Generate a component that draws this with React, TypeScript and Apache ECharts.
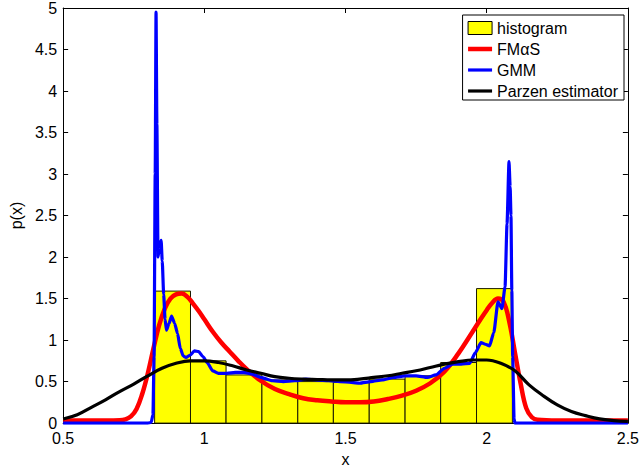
import React, { useEffect, useRef } from "react";
import * as echarts from "echarts";

// Histogram bin edges and heights
const binEdges = [0.824, 0.951, 1.077, 1.204, 1.331, 1.457, 1.584, 1.711, 1.837, 1.964, 2.091];
const binHeights = [1.59, 0.75, 0.58, 0.52, 0.5, 0.49, 0.53, 0.57, 0.73, 1.62];

// FMαS curve
const fmasPoints = [
  [0.5, 0.03], [0.6, 0.03], [0.7, 0.035], [0.72, 0.045], [0.74, 0.08], [0.76, 0.17], [0.78, 0.35],
  [0.8, 0.6], [0.82, 0.9], [0.84, 1.18], [0.86, 1.38], [0.88, 1.5], [0.9, 1.55], [0.92, 1.56],
  [0.94, 1.52], [0.96, 1.44], [0.98, 1.35], [1.0, 1.25], [1.03, 1.1], [1.06, 0.97], [1.09, 0.86],
  [1.12, 0.75], [1.15, 0.65], [1.2, 0.51], [1.25, 0.41], [1.3, 0.35], [1.35, 0.3], [1.4, 0.275],
  [1.45, 0.26], [1.5, 0.25], [1.55, 0.25], [1.6, 0.26], [1.65, 0.29], [1.7, 0.33], [1.75, 0.39],
  [1.8, 0.48], [1.85, 0.62], [1.9, 0.84], [1.95, 1.1], [1.98, 1.26], [2.0, 1.36], [2.02, 1.45],
  [2.04, 1.5], [2.06, 1.46], [2.08, 1.22], [2.1, 0.85], [2.12, 0.48], [2.14, 0.18], [2.16, 0.07],
  [2.18, 0.04], [2.25, 0.03], [2.5, 0.03],
];

// GMM curve
const gmmPoints = [
  [0.5, 0], [0.8, 0], [0.812, 0.01], [0.818, 0.1], [0.822, 0.8], [0.826, 3.0], [0.829, 4.95],
  [0.832, 3.6], [0.836, 2.0], [0.841, 2.12], [0.847, 2.2], [0.851, 1.95], [0.856, 1.55],
  [0.861, 1.25], [0.866, 1.12], [0.875, 1.2], [0.884, 1.29], [0.895, 1.2], [0.905, 1.08],
  [0.915, 0.9], [0.925, 0.81], [0.935, 0.79], [0.95, 0.82], [0.965, 0.87], [0.98, 0.86],
  [0.995, 0.8], [1.01, 0.73], [1.03, 0.63], [1.05, 0.6], [1.08, 0.6], [1.11, 0.61], [1.14, 0.61],
  [1.17, 0.59], [1.2, 0.55], [1.24, 0.51], [1.28, 0.5], [1.32, 0.51], [1.36, 0.53], [1.4, 0.52],
  [1.44, 0.51], [1.48, 0.5], [1.52, 0.49], [1.55, 0.48], [1.59, 0.5], [1.63, 0.52], [1.67, 0.55],
  [1.71, 0.57], [1.75, 0.57], [1.79, 0.55], [1.82, 0.58], [1.85, 0.66], [1.88, 0.71], [1.91, 0.71],
  [1.94, 0.72], [1.96, 0.85], [1.98, 0.97], [1.995, 0.95], [2.01, 0.93], [2.025, 1.09], [2.04, 1.46],
  [2.054, 1.38], [2.065, 1.64], [2.072, 2.4], [2.079, 3.15], [2.083, 2.85], [2.086, 2.5],
  [2.089, 1.6], [2.092, 0.8], [2.097, 0.05], [2.1, 0], [2.5, 0],
];

// Parzen estimator curve
const parzenPoints = [
  [0.5, 0.05], [0.55, 0.1], [0.6, 0.19], [0.65, 0.28], [0.7, 0.38], [0.75, 0.47], [0.8, 0.57],
  [0.85, 0.66], [0.9, 0.72], [0.95, 0.75], [1.0, 0.75], [1.05, 0.73], [1.1, 0.69], [1.15, 0.64],
  [1.2, 0.6], [1.25, 0.56], [1.3, 0.54], [1.35, 0.53], [1.4, 0.525], [1.45, 0.52], [1.5, 0.52],
  [1.55, 0.53], [1.6, 0.55], [1.65, 0.57], [1.7, 0.6], [1.75, 0.63], [1.8, 0.67], [1.85, 0.71],
  [1.9, 0.74], [1.95, 0.76], [2.0, 0.76], [2.05, 0.72], [2.1, 0.63], [2.15, 0.46], [2.2, 0.33],
  [2.25, 0.22], [2.3, 0.14], [2.35, 0.09], [2.4, 0.05], [2.45, 0.03], [2.5, 0.02],
];

const seriesNames = ["histogram", "FMαS", "GMM", "Parzen estimator"];

const FONT = "'Liberation Sans', Arial, Helvetica, sans-serif";

export default function App() {
  const ref = useRef<HTMLDivElement>(null);
  useEffect(() => {
    document.body.style.margin = "0";
    const chart = echarts.init(ref.current!, null, { renderer: "svg" });
    const histData = binHeights.map((h, i) => [binEdges[i], binEdges[i + 1], h]);
    const tick = { show: true, inside: true, length: 5, lineStyle: { color: "#000", width: 1 } };
    const axisLine = { show: true, onZero: false, lineStyle: { color: "#000", width: 1 } };
    const label = { color: "#000", fontSize: 16, fontFamily: FONT };
    chart.setOption({
      animation: false,
      backgroundColor: "#fff",
      textStyle: { fontFamily: FONT },
      grid: { left: 59, right: 11, top: 8, bottom: 44, containLabel: false },
      xAxis: [
        {
          type: "value", min: 0.5, max: 2.5, interval: 0.5,
          axisLine, axisTick: tick, splitLine: { show: false },
          axisLabel: { ...label, margin: 7 },
          name: "x", nameLocation: "middle", nameGap: 25,
          nameTextStyle: { color: "#000", fontSize: 16, fontFamily: FONT },
        },
        {
          type: "value", min: 0.5, max: 2.5, interval: 0.5, position: "top",
          axisLine, axisTick: tick, splitLine: { show: false }, axisLabel: { show: false },
        },
      ],
      yAxis: [
        {
          type: "value", min: 0, max: 5, interval: 0.5,
          axisLine, axisTick: tick, splitLine: { show: false },
          axisLabel: { ...label, margin: 6 },
          name: "p(x)", nameLocation: "middle", nameGap: 33,
          nameTextStyle: { color: "#000", fontSize: 16, fontFamily: FONT },
        },
        {
          type: "value", min: 0, max: 5, interval: 0.5, position: "right",
          axisLine, axisTick: tick, splitLine: { show: false }, axisLabel: { show: false },
        },
      ],
      legend: {
        right: 18, top: 15, orient: "vertical",
        backgroundColor: "#fff", borderColor: "#000", borderWidth: 1,
        padding: [5, 6, 1, 5], itemGap: 5, itemWidth: 24, itemHeight: 13,
        textStyle: { color: "#000", fontSize: 16, fontFamily: FONT, lineHeight: 16 },
        data: [
          { name: seriesNames[0], icon: "rect", itemStyle: { color: "#ffff00", borderColor: "#000", borderWidth: 1 } },
          { name: seriesNames[1], icon: "path://M0,0H24V4.5H0Z" },
          { name: seriesNames[2], icon: "path://M0,0H24V3.2H0Z" },
          { name: seriesNames[3], icon: "path://M0,0H24V3.2H0Z" },
        ],
      },
      series: [
        {
          name: seriesNames[0], type: "custom", data: histData,
          encode: { x: [0, 1], y: 2 },
          itemStyle: { color: "#ffff00", borderColor: "#000", borderWidth: 1 },
          renderItem: (params: any, api: any) => {
            const p0 = api.coord([api.value(0), api.value(2)]);
            const p1 = api.coord([api.value(1), 0]);
            return {
              type: "rect",
              shape: { x: p0[0], y: p0[1], width: p1[0] - p0[0], height: p1[1] - p0[1] },
              style: { fill: "#ffff00", stroke: "#1a1a00", lineWidth: 1 },
            };
          },
          z: 1,
        },
        {
          name: seriesNames[1], type: "line", data: fmasPoints, showSymbol: false, symbol: "none",
          smooth: 0.4,
          lineStyle: { color: "#ff0000", width: 4.5 }, itemStyle: { color: "#ff0000" }, z: 2,
        },
        {
          name: seriesNames[2], type: "line", data: gmmPoints, showSymbol: false, symbol: "none",
          smooth: 0.2, smoothMonotone: "x",
          lineStyle: { color: "#0000ff", width: 3.2 }, itemStyle: { color: "#0000ff" }, z: 3,
        },
        {
          name: seriesNames[3], type: "line", data: parzenPoints, showSymbol: false, symbol: "none",
          smooth: 0.4,
          lineStyle: { color: "#000000", width: 3.2 }, itemStyle: { color: "#000000" }, z: 4,
        },
      ],
    });
    return () => chart.dispose();
  }, []);
  return <div ref={ref} style={{ width: 642, height: 472 }} />;
}
